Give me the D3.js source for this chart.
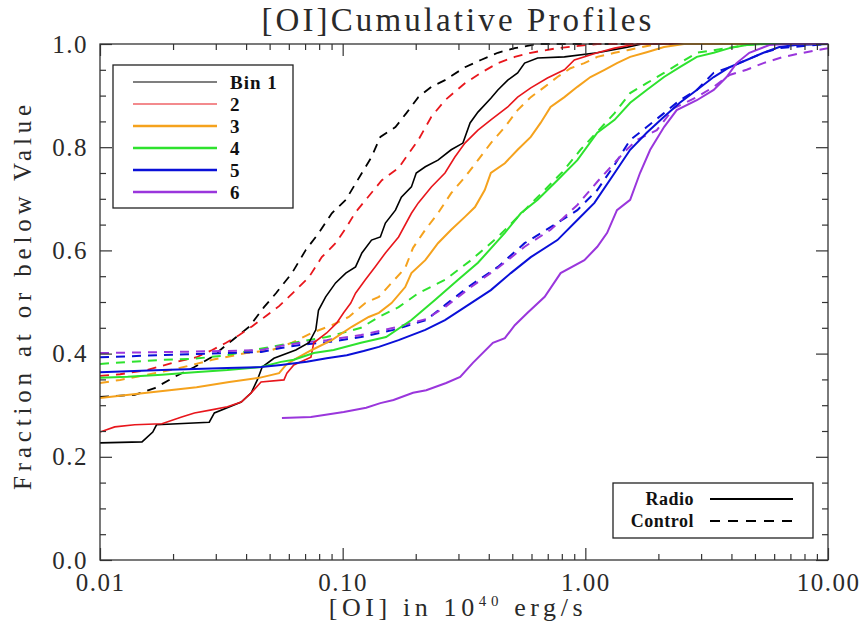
<!DOCTYPE html>
<html>
<head>
<meta charset="utf-8">
<script src="https://cdn.jsdelivr.net/npm/d3@7"></script>
<style>
  body { margin: 0; background: #fff; }
  text { font-family: "Liberation Serif", "DejaVu Serif", serif; }
</style>
</head>
<body>
<div id="holder"></div>
<script>
const w = 866;
const h = 641;
const plotLeft = 100, plotRight = 828, plotTop = 44, plotBottom = 560;

// DATA : [ [OI] value (1e40 erg/s), cumulative fraction ]
const bin1Radio = [[0.01,0.227],[0.0149,0.229],[0.0165,0.248],[0.0171,0.262],[0.0282,0.267],[0.0296,0.285],[0.0382,0.306],[0.042,0.324],[0.0445,0.349],[0.0466,0.374],[0.0521,0.391],[0.0641,0.407],[0.0726,0.421],[0.0775,0.446],[0.0795,0.484],[0.0851,0.51],[0.0935,0.537],[0.103,0.556],[0.113,0.568],[0.12,0.595],[0.1315,0.62],[0.143,0.626],[0.15,0.653],[0.165,0.678],[0.1745,0.703],[0.192,0.723],[0.201,0.75],[0.219,0.762],[0.247,0.775],[0.28,0.795],[0.313,0.808],[0.335,0.847],[0.361,0.868],[0.408,0.895],[0.436,0.911],[0.479,0.93],[0.526,0.944],[0.562,0.963],[0.636,0.973],[0.82,0.975],[1.12,0.983],[1.49,0.994],[1.71,1.0],[10,1.0]];
const bin1Control = [[0.01,0.316],[0.0139,0.32],[0.0168,0.333],[0.0203,0.355],[0.0245,0.374],[0.0288,0.393],[0.0351,0.426],[0.0412,0.452],[0.0474,0.49],[0.0531,0.517],[0.0618,0.556],[0.0705,0.601],[0.0798,0.634],[0.0902,0.672],[0.103,0.698],[0.12,0.75],[0.1315,0.781],[0.143,0.82],[0.165,0.839],[0.183,0.866],[0.205,0.897],[0.232,0.917],[0.264,0.93],[0.319,0.955],[0.371,0.969],[0.436,0.983],[0.512,0.992],[0.636,1.0],[10,1.0]];
const bin2Radio = [[0.01,0.248],[0.0115,0.258],[0.0139,0.262],[0.018,0.264],[0.0217,0.277],[0.0245,0.285],[0.0288,0.291],[0.0335,0.297],[0.0382,0.306],[0.042,0.324],[0.0461,0.345],[0.0573,0.349],[0.0589,0.362],[0.0629,0.378],[0.074,0.393],[0.076,0.421],[0.0859,0.44],[0.0944,0.459],[0.1009,0.479],[0.108,0.498],[0.113,0.517],[0.124,0.543],[0.136,0.568],[0.15,0.595],[0.17,0.626],[0.192,0.672],[0.205,0.692],[0.232,0.723],[0.264,0.75],[0.29,0.781],[0.319,0.808],[0.361,0.833],[0.408,0.853],[0.479,0.878],[0.526,0.897],[0.596,0.915],[0.698,0.934],[0.82,0.95],[0.901,0.969],[1.12,0.983],[1.32,0.992],[1.63,1.0],[10,1.0]];
const bin2Control = [[0.01,0.357],[0.0121,0.36],[0.0156,0.368],[0.0199,0.382],[0.025,0.393],[0.029,0.407],[0.0331,0.421],[0.0375,0.436],[0.0424,0.453],[0.0483,0.473],[0.0547,0.492],[0.0641,0.523],[0.0726,0.548],[0.082,0.587],[0.0935,0.614],[0.103,0.643],[0.113,0.674],[0.128,0.705],[0.145,0.736],[0.17,0.76],[0.205,0.814],[0.232,0.859],[0.264,0.891],[0.319,0.924],[0.371,0.944],[0.436,0.963],[0.512,0.975],[0.596,0.983],[0.767,0.992],[1.12,1.0],[10,1.0]];
const bin3Radio = [[0.01,0.314],[0.0156,0.324],[0.025,0.335],[0.0341,0.345],[0.0453,0.353],[0.0547,0.362],[0.0584,0.378],[0.0629,0.388],[0.0746,0.407],[0.0902,0.426],[0.109,0.452],[0.128,0.471],[0.141,0.479],[0.159,0.498],[0.181,0.529],[0.192,0.556],[0.219,0.581],[0.247,0.614],[0.28,0.64],[0.319,0.665],[0.351,0.684],[0.385,0.717],[0.408,0.75],[0.466,0.769],[0.526,0.795],[0.596,0.82],[0.654,0.847],[0.719,0.878],[0.82,0.897],[0.927,0.917],[1.05,0.936],[1.2,0.95],[1.35,0.963],[1.53,0.975],[1.79,0.984],[2.11,0.994],[2.55,1.0],[10,1.0]];
const bin3Control = [[0.01,0.343],[0.0121,0.349],[0.0156,0.359],[0.0213,0.372],[0.029,0.388],[0.04,0.401],[0.0512,0.407],[0.0618,0.421],[0.0746,0.44],[0.0902,0.455],[0.106,0.471],[0.124,0.498],[0.141,0.51],[0.159,0.537],[0.181,0.566],[0.195,0.605],[0.219,0.64],[0.247,0.672],[0.28,0.711],[0.319,0.742],[0.361,0.775],[0.408,0.808],[0.466,0.839],[0.526,0.872],[0.596,0.897],[0.68,0.917],[0.767,0.936],[0.869,0.953],[0.991,0.963],[1.12,0.975],[1.32,0.983],[1.49,0.988],[1.97,1.0],[10,1.0]];
const bin4Radio = [[0.01,0.353],[0.013,0.355],[0.018,0.359],[0.0245,0.364],[0.0335,0.368],[0.0461,0.374],[0.0557,0.384],[0.0629,0.388],[0.076,0.401],[0.0918,0.407],[0.119,0.421],[0.151,0.432],[0.192,0.465],[0.24,0.504],[0.299,0.543],[0.361,0.576],[0.466,0.634],[0.542,0.672],[0.636,0.698],[0.767,0.736],[0.927,0.775],[1.12,0.828],[1.32,0.853],[1.53,0.886],[1.79,0.911],[2.11,0.936],[2.45,0.955],[2.88,0.975],[3.38,0.983],[3.93,0.992],[4.62,0.998],[5.42,1.0],[10,1.0]];
const bin4Control = [[0.01,0.38],[0.018,0.388],[0.0245,0.39],[0.0335,0.397],[0.0431,0.407],[0.0629,0.421],[0.0859,0.432],[0.119,0.45],[0.141,0.471],[0.17,0.49],[0.205,0.517],[0.264,0.543],[0.338,0.581],[0.436,0.626],[0.562,0.678],[0.667,0.713],[0.805,0.752],[0.955,0.795],[1.32,0.866],[1.53,0.905],[1.79,0.924],[2.11,0.944],[2.45,0.963],[2.88,0.983],[3.38,0.988],[4.62,0.998],[5.57,1.0],[10,1.0]];
const bin5Radio = [[0.01,0.364],[0.018,0.368],[0.0335,0.372],[0.0461,0.374],[0.0557,0.378],[0.0711,0.384],[0.0859,0.391],[0.104,0.397],[0.122,0.405],[0.141,0.413],[0.17,0.426],[0.219,0.446],[0.264,0.465],[0.319,0.49],[0.408,0.523],[0.493,0.556],[0.596,0.587],[0.767,0.62],[0.927,0.659],[1.09,0.692],[1.32,0.75],[1.53,0.795],[1.79,0.828],[2.11,0.859],[2.45,0.886],[2.88,0.911],[3.38,0.936],[3.93,0.955],[4.62,0.969],[5.42,0.983],[6.3,0.994],[7.39,0.998],[10,1.0]];
const bin5Control = [[0.01,0.393],[0.018,0.397],[0.0335,0.401],[0.0461,0.403],[0.0557,0.411],[0.0673,0.417],[0.0859,0.422],[0.119,0.432],[0.162,0.446],[0.221,0.465],[0.264,0.494],[0.338,0.533],[0.436,0.568],[0.562,0.614],[0.719,0.645],[0.927,0.678],[1.12,0.717],[1.32,0.766],[1.53,0.814],[1.79,0.839],[2.11,0.866],[2.45,0.891],[2.88,0.911],[3.38,0.944],[3.93,0.955],[4.62,0.969],[5.42,0.983],[6.3,0.992],[7.91,0.996],[10,1.0]];
const bin6Radio = [[0.0562,0.275],[0.074,0.277],[0.101,0.287],[0.125,0.295],[0.143,0.304],[0.162,0.31],[0.195,0.324],[0.221,0.329],[0.267,0.343],[0.305,0.355],[0.344,0.382],[0.416,0.421],[0.466,0.43],[0.512,0.455],[0.578,0.479],[0.68,0.51],[0.791,0.556],[0.991,0.581],[1.12,0.607],[1.23,0.634],[1.35,0.678],[1.53,0.698],[1.68,0.75],[1.85,0.795],[2.11,0.839],[2.38,0.872],[2.88,0.891],[3.38,0.911],[3.82,0.936],[4.2,0.963],[4.74,0.983],[5.73,0.998],[6.73,1.0],[10,1.0]];
const bin6Control = [[0.01,0.401],[0.018,0.403],[0.0335,0.405],[0.0461,0.407],[0.0557,0.415],[0.0673,0.421],[0.0859,0.426],[0.119,0.436],[0.162,0.45],[0.221,0.467],[0.264,0.49],[0.338,0.529],[0.436,0.566],[0.562,0.607],[0.719,0.64],[0.927,0.688],[1.12,0.733],[1.45,0.791],[1.63,0.814],[1.97,0.833],[2.32,0.876],[2.88,0.897],[3.38,0.917],[3.93,0.94],[4.62,0.95],[5.42,0.963],[6.55,0.975],[7.91,0.983],[10,0.992]];

const binLabels = ["Bin 1", "2", "3", "4", "5", "6"];
const binColors = ["#000000", "#e8161c", "#f5a21d", "#2ee22e", "#0a10d8", "#9a36dc"];
const radioSeries = [bin1Radio, bin2Radio, bin3Radio, bin4Radio, bin5Radio, bin6Radio];
const controlSeries = [bin1Control, bin2Control, bin3Control, bin4Control, bin5Control, bin6Control];

const xMajor = [0.01, 0.1, 1, 10];
const xMajorLabels = ["0.01", "0.10", "1.00", "10.00"];
const yMajor = [0, 0.2, 0.4, 0.6, 0.8, 1.0];
const yMajorLabels = ["0.0", "0.2", "0.4", "0.6", "0.8", "1.0"];

// minor ticks
const xMinor = [];
[0.01, 0.1, 1].forEach(d => { for (let k = 2; k <= 9; k++) xMinor.push(d * k); });
const yMinor = d3.range(0, 1.0001, 0.05).filter(v => Math.abs(v * 5 - Math.round(v * 5)) > 1e-6);

// CREATE SVG
const svg = d3.select("#holder")
    .append("svg")
    .attr("width", w)
    .attr("height", h);

const x = d3.scaleLog().domain([0.01, 10]).range([plotLeft, plotRight]);
const y = d3.scaleLinear().domain([0, 1]).range([plotBottom, plotTop]);

svg.append("defs").append("clipPath").attr("id", "clip")
    .append("rect").attr("x", plotLeft).attr("y", plotTop - 2)
    .attr("width", plotRight - plotLeft).attr("height", plotBottom - plotTop + 2);

// stretch a text to a given width (the original uses wide vector fonts)
function fitWidth(sel, target) {
    const node = sel.node();
    const n = node.textContent.length;
    const cur = node.getComputedTextLength();
    sel.attr("letter-spacing", (target - cur) / Math.max(1, n - 1));
}

// LINES
const line = d3.line().x(d => x(d[0])).y(d => y(d[1]));
const plot = svg.append("g").attr("clip-path", "url(#clip)");

controlSeries.forEach((s, i) => {
    plot.append("path")
        .attr("d", line(s))
        .attr("fill", "none")
        .attr("stroke", binColors[i])
        .attr("stroke-width", i < 2 ? 1.8 : 2)
        .attr("stroke-dasharray", "9,7");
});
radioSeries.forEach((s, i) => {
    plot.append("path")
        .attr("d", line(s))
        .attr("fill", "none")
        .attr("stroke", binColors[i])
        .attr("stroke-width", i < 2 ? 1.6 : 2);
});

// AXES
const axisColor = "#333";
function styleAxis(g) {
    g.select(".domain").remove();
    g.selectAll("line").attr("stroke", axisColor).attr("stroke-width", 1.2);
    g.selectAll("text").attr("font-size", 25).attr("fill", "#2a2a2a")
        .attr("letter-spacing", 1.5)
        .attr("font-family", "'Liberation Serif', serif");
}

svg.append("g").attr("transform", `translate(0,${plotBottom})`)
    .call(d3.axisBottom(x).tickValues(xMajor).tickSize(-12).tickPadding(13)
        .tickFormat((d, i) => xMajorLabels[i]))
    .call(styleAxis);
svg.append("g").attr("transform", `translate(0,${plotBottom})`)
    .call(d3.axisBottom(x).tickValues(xMinor).tickSize(-6).tickFormat(""))
    .call(styleAxis);
svg.append("g").attr("transform", `translate(0,${plotTop})`)
    .call(d3.axisTop(x).tickValues(xMajor).tickSize(-12).tickFormat(""))
    .call(styleAxis);
svg.append("g").attr("transform", `translate(0,${plotTop})`)
    .call(d3.axisTop(x).tickValues(xMinor).tickSize(-6).tickFormat(""))
    .call(styleAxis);

svg.append("g").attr("transform", `translate(${plotLeft},0)`)
    .call(d3.axisLeft(y).tickValues(yMajor).tickSize(-12).tickPadding(12)
        .tickFormat((d, i) => yMajorLabels[i]))
    .call(styleAxis);
svg.append("g").attr("transform", `translate(${plotLeft},0)`)
    .call(d3.axisLeft(y).tickValues(yMinor).tickSize(-6).tickFormat(""))
    .call(styleAxis);
svg.append("g").attr("transform", `translate(${plotRight},0)`)
    .call(d3.axisRight(y).tickValues(yMajor).tickSize(-12).tickFormat(""))
    .call(styleAxis);
svg.append("g").attr("transform", `translate(${plotRight},0)`)
    .call(d3.axisRight(y).tickValues(yMinor).tickSize(-6).tickFormat(""))
    .call(styleAxis);

// frame
svg.append("rect")
    .attr("x", plotLeft).attr("y", plotTop)
    .attr("width", plotRight - plotLeft).attr("height", plotBottom - plotTop)
    .attr("fill", "none").attr("stroke", axisColor).attr("stroke-width", 1.3);

// TITLES
const title = svg.append("text")
    .attr("x", 458).attr("y", 31)
    .attr("text-anchor", "middle")
    .attr("font-size", 33).attr("fill", "#2a2a2a")
    .text("[OI]Cumulative Profiles");
fitWidth(title, 390);

const xl = svg.append("text")
    .attr("x", 458).attr("y", 616)
    .attr("text-anchor", "middle")
    .attr("font-size", 26).attr("fill", "#2a2a2a");
xl.append("tspan").text("[OI] in 10");
xl.append("tspan").attr("font-size", 15).attr("dy", -10).text("40");
xl.append("tspan").attr("dy", 10).text(" erg/s");
fitWidth(xl, 254);

const yl = svg.append("text")
    .attr("transform", `translate(31,295) rotate(-90)`)
    .attr("text-anchor", "middle")
    .attr("font-size", 25).attr("fill", "#2a2a2a")
    .text("Fraction at or below Value");
fitWidth(yl, 385);

// LEGEND (bins)
const lg = svg.append("g");
lg.append("rect").attr("x", 113).attr("y", 65).attr("width", 180).attr("height", 143)
    .attr("fill", "#fff").attr("stroke", "#222").attr("stroke-width", 1.3);
binLabels.forEach((lab, i) => {
    const yy = 82 + i * 22;
    lg.append("line").attr("x1", 133).attr("x2", 217).attr("y1", yy).attr("y2", yy)
        .attr("stroke", binColors[i]).attr("stroke-width", i < 2 ? 1.2 : 2.5);
    lg.append("text").attr("x", 230).attr("y", yy + 7)
        .attr("font-size", 19).attr("font-weight", "bold").attr("fill", "#111")
        .attr("letter-spacing", 1)
        .text(lab);
});

// LEGEND (radio / control)
const styleLabels = ["Radio", "Control"];
const styleDash = [null, "10,8"];
const lg2 = svg.append("g");
lg2.append("rect").attr("x", 613).attr("y", 483).attr("width", 200).attr("height", 55)
    .attr("fill", "#fff").attr("stroke", "#222").attr("stroke-width", 1.3);
styleLabels.forEach((lab, i) => {
    const yy = 499 + i * 22;
    lg2.append("line").attr("x1", 710).attr("x2", 793).attr("y1", yy).attr("y2", yy)
        .attr("stroke", "#000").attr("stroke-width", 2.2)
        .attr("stroke-dasharray", styleDash[i]);
    lg2.append("text").attr("x", 694).attr("y", yy + 6)
        .attr("text-anchor", "end")
        .attr("font-size", 18).attr("font-weight", "bold").attr("fill", "#111")
        .attr("letter-spacing", 0.5)
        .text(lab);
});
</script>
</body>
</html>
